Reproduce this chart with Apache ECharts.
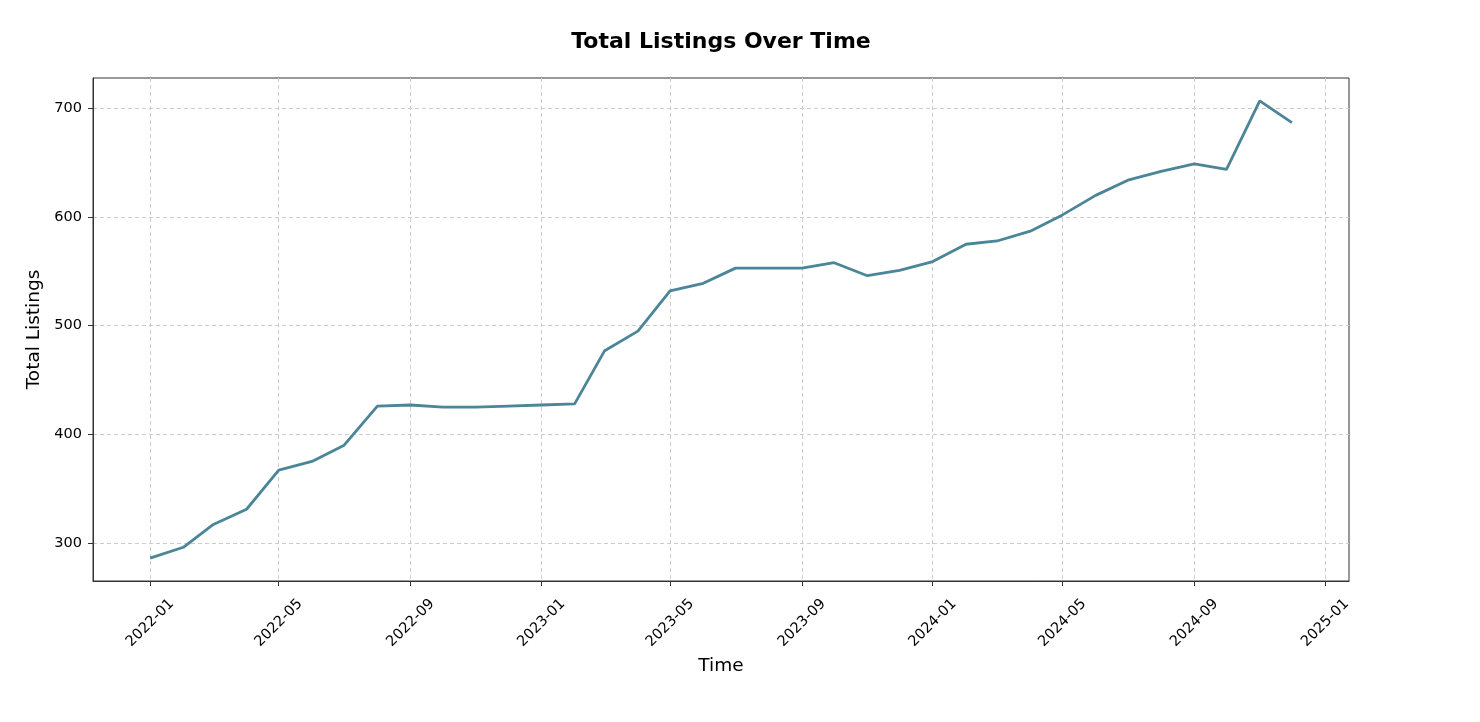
<!DOCTYPE html>
<html><head><meta charset="utf-8">
<script src="https://cdn.jsdelivr.net/npm/echarts@6/dist/echarts.min.js"></script>
<style>html,body{margin:0;padding:0;background:#fff}#c{width:1480px;height:722px}</style>
</head><body><div id="c"></div>
<script>
const months = ['2022-01-01','2022-02-01','2022-03-01','2022-04-01','2022-05-01','2022-06-01','2022-07-01','2022-08-01','2022-09-01','2022-10-01','2022-11-01','2022-12-01',
'2023-01-01','2023-02-01','2023-03-01','2023-04-01','2023-05-01','2023-06-01','2023-07-01','2023-08-01','2023-09-01','2023-10-01','2023-11-01','2023-12-01',
'2024-01-01','2024-02-01','2024-03-01','2024-04-01','2024-05-01','2024-06-01','2024-07-01','2024-08-01','2024-09-01','2024-10-01','2024-11-01','2024-12-01'];
const listings = [286,296,317,331,367,375,390,426,427,425,425,426,
427,428,477,495,532,539,553,553,553,558,546,551,
559,575,578,587,602,620,634,642,649,644,707,687];
const xTicks = ['2022-01-01','2022-05-01','2022-09-01','2023-01-01','2023-05-01','2023-09-01','2024-01-01','2024-05-01','2024-09-01','2025-01-01'];
const yTicks = [300,400,500,600,700];

const toMs = d => Date.parse(d+'T00:00:00Z');
const t0 = toMs(months[0]);
const t1 = toMs(months[months.length-1]);
const span = t1 - t0;
const xMin = t0 - 0.05*span, xMax = t1 + 0.05*span;
const yLo = Math.min(...listings), yHi = Math.max(...listings);
const yMin = yLo - 0.05*(yHi-yLo), yMax = yHi + 0.05*(yHi-yLo);
const xTickVals = xTicks.map(toMs);

const chart = echarts.init(document.getElementById('c'), null, {renderer:'canvas'});
const font = 'DejaVu Sans';
chart.setOption({
  animation:false,
  backgroundColor:'#fff',
  title:{text:'Total Listings Over Time', left:716, textAlign:'center', top:26,
    textStyle:{fontFamily:font, fontWeight:'bold', fontSize:22, color:'#000'}},
  grid:{left:93, top:78, right:131, bottom:141, show:true, borderColor:'#333', borderWidth:1, backgroundColor:'transparent'},
  xAxis:{type:'value', min:xMin, max:xMax, scale:true,
    name:'Time', nameLocation:'middle', nameGap:75,
    nameTextStyle:{fontFamily:font, fontSize:18.5, color:'#000'},
    axisLine:{show:true, onZero:false, lineStyle:{color:'#333'}},
    axisTick:{show:true, length:5, customValues:xTickVals, lineStyle:{color:'#333'}},
    axisLabel:{customValues:xTickVals, rotate:45, margin:42, align:'center', verticalAlign:'middle',
      fontFamily:font, fontSize:14.5, color:'#000',
      formatter:v=>{const d=new Date(v);return d.getUTCFullYear()+'-'+String(d.getUTCMonth()+1).padStart(2,'0');}},
    splitLine:{show:true, lineStyle:{color:'#cccccc', type:[4,3], width:1}}
  },
  yAxis:{type:'value', min:yMin, max:yMax,
    name:'Total Listings', nameLocation:'middle', nameGap:48,
    nameTextStyle:{fontFamily:font, fontSize:18.5, color:'#000'},
    axisLine:{show:true, lineStyle:{color:'#333'}},
    axisTick:{show:true, length:5, customValues:yTicks, lineStyle:{color:'#333'}},
    axisLabel:{customValues:yTicks, margin:11, fontFamily:font, fontSize:14.5, color:'#000'},
    splitLine:{show:true, lineStyle:{color:'#cccccc', type:[4,3], width:1}}
  },
  series:[{type:'line', data:months.map((m,i)=>[toMs(m), listings[i]]),
    showSymbol:false, symbol:'none', lineStyle:{color:'#4a8598', width:2.8}, itemStyle:{color:'#4a8598'}}]
});
</script></body></html>
